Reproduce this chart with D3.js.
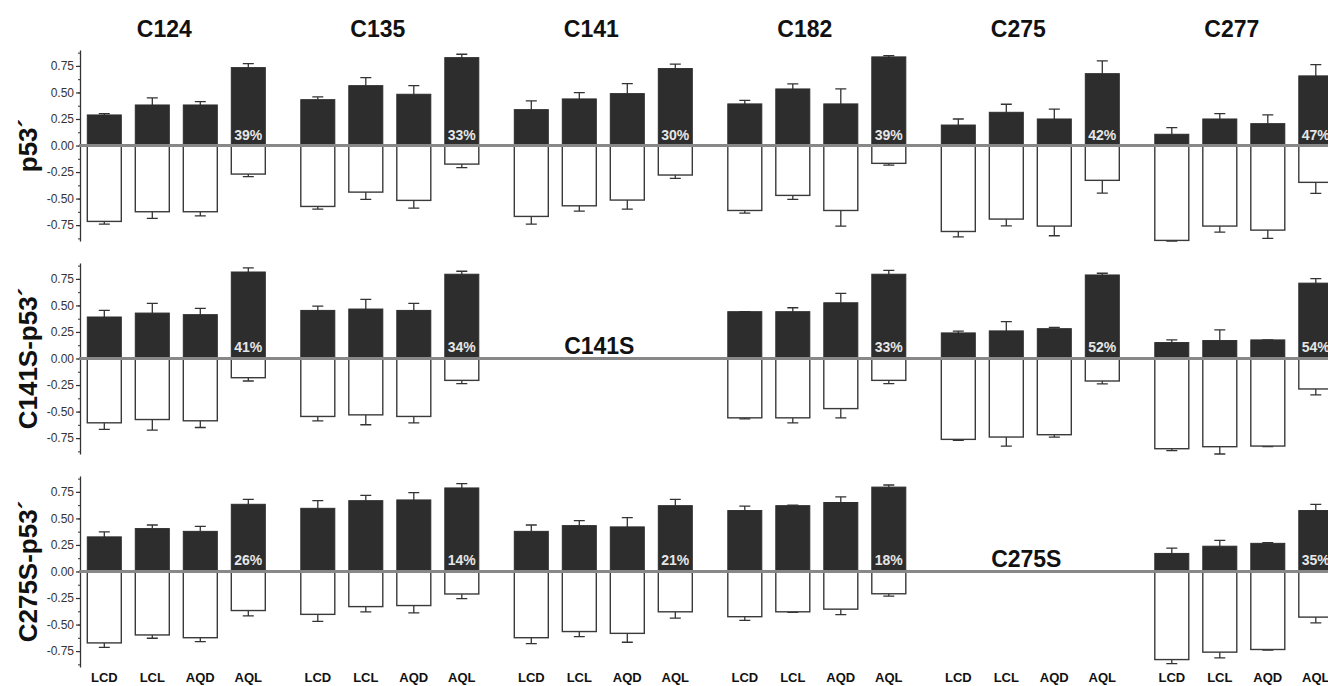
<!DOCTYPE html>
<html>
<head>
<meta charset="utf-8">
<script src="https://cdn.jsdelivr.net/npm/d3@7"></script>
<style>
  body { margin: 0; background: #fff; }
  text { font-family: "Liberation Sans", Arial, sans-serif; }
</style>
</head>
<body>
<div id="chart"></div>
<script>
// panels (columns), constructs (rows), ligand groups inside each panel
const panels = ["C124", "C135", "C141", "C182", "C275", "C277"];
const constructs = ["p53´", "C141S-p53´", "C275S-p53´"];
const ligands = ["LCD", "LCL", "AQD", "AQL"];
const yTicks = [-0.75, -0.5, -0.25, 0, 0.25, 0.5, 0.75];

// positive (dark) bars and the top of their error bars
const posMean = [
  [[0.288, 0.382, 0.382, 0.734], [0.432, 0.564, 0.483, 0.828], [0.338, 0.439, 0.489, 0.725], [0.392, 0.533, 0.392, 0.835], [0.193, 0.313, 0.25, 0.677], [0.106, 0.25, 0.206, 0.656]],
  [[0.391, 0.428, 0.413, 0.815], [0.453, 0.466, 0.453, 0.794], null, [0.441, 0.441, 0.525, 0.794], [0.241, 0.26, 0.281, 0.787], [0.15, 0.169, 0.175, 0.71]],
  [[0.326, 0.404, 0.378, 0.633], [0.595, 0.667, 0.674, 0.787], [0.378, 0.432, 0.42, 0.62], [0.574, 0.62, 0.65, 0.795], null, [0.17, 0.238, 0.265, 0.574]],
];
const posHi = [
  [[0.30, 0.448, 0.413, 0.772], [0.458, 0.64, 0.564, 0.86], [0.42, 0.498, 0.583, 0.766], [0.426, 0.58, 0.533, 0.847], [0.25, 0.389, 0.342, 0.797], [0.168, 0.30, 0.288, 0.762]],
  [[0.453, 0.519, 0.472, 0.853], [0.494, 0.557, 0.519, 0.822], null, [0.441, 0.478, 0.613, 0.831], [0.257, 0.347, 0.294, 0.803], [0.175, 0.269, 0.175, 0.753]],
  [[0.373, 0.438, 0.425, 0.68], [0.667, 0.717, 0.743, 0.827], [0.438, 0.48, 0.507, 0.68], [0.615, 0.625, 0.703, 0.815], null, [0.22, 0.294, 0.272, 0.633]],
];

// negative (white) bars and the bottom of their error bars
const negMean = [
  [[-0.715, -0.624, -0.624, -0.269], [-0.574, -0.439, -0.517, -0.175], [-0.668, -0.568, -0.514, -0.278], [-0.612, -0.47, -0.612, -0.168], [-0.81, -0.693, -0.759, -0.328], [-0.894, -0.759, -0.797, -0.347]],
  [[-0.606, -0.575, -0.587, -0.181], [-0.546, -0.531, -0.546, -0.206], null, [-0.559, -0.559, -0.472, -0.206], [-0.762, -0.74, -0.718, -0.212], [-0.85, -0.831, -0.825, -0.287]],
  [[-0.673, -0.598, -0.624, -0.368], [-0.404, -0.331, -0.321, -0.212], [-0.624, -0.566, -0.583, -0.38], [-0.426, -0.38, -0.355, -0.21], null, [-0.83, -0.76, -0.735, -0.43]],
];
const negLo = [
  [[-0.74, -0.687, -0.662, -0.294], [-0.599, -0.508, -0.59, -0.209], [-0.74, -0.618, -0.599, -0.309], [-0.637, -0.508, -0.76, -0.184], [-0.86, -0.757, -0.85, -0.448], [-0.9, -0.816, -0.875, -0.451]],
  [[-0.668, -0.675, -0.65, -0.212], [-0.587, -0.624, -0.606, -0.237], null, [-0.568, -0.606, -0.559, -0.237], [-0.771, -0.825, -0.74, -0.24], [-0.868, -0.9, -0.83, -0.343]],
  [[-0.716, -0.629, -0.661, -0.418], [-0.47, -0.38, -0.39, -0.255], [-0.68, -0.614, -0.667, -0.44], [-0.46, -0.385, -0.407, -0.232], null, [-0.868, -0.814, -0.74, -0.485]],
];

// percent labels in the AQL bars, and the mutated-cysteine labels for empty panels
const pctLabels = [
  ["39%", "33%", "30%", "39%", "42%", "47%"],
  ["41%", "34%", null, "33%", "52%", "54%"],
  ["26%", "14%", "21%", "18%", null, "35%"],
];
const mutantLabels = [
  [null, null, null, null, null, null],
  [null, null, "C141S", null, null, null],
  [null, null, null, null, "C275S", null],
];

const width = 1328, height = 686;
const axisX = 80;

const svg = d3.select("#chart").append("svg")
  .attr("width", width)
  .attr("height", height)
  .style("background", "#fff");

const xPanel = d3.scaleBand().domain(panels).range([axisX, axisX + 6 * 213.5]);
const xBar = d3.scaleBand().domain(ligands).range([7.3, 185.3]).paddingInner(0.2917).paddingOuter(0);
const yRow = d3.scaleBand().domain(d3.range(3)).range([50, 667]).paddingInner(0.103).paddingOuter(0);
const yVal = d3.scaleLinear().domain([-0.9, 0.9]).range([yRow.bandwidth(), 0]);

const fmt = (d) => d.toFixed(2);
const capW = 11;

// column titles
svg.selectAll(".col-title")
  .data(panels)
  .join("text")
  .attr("class", "col-title")
  .attr("x", (d) => xPanel(d) + xBar("LCD") + 77)
  .attr("y", 36.5)
  .attr("text-anchor", "middle")
  .attr("font-size", "23px")
  .attr("font-weight", "bold")
  .attr("fill", "#111")
  .text((d) => d);

constructs.forEach((name, r) => {
  const g = svg.append("g").attr("transform", `translate(0, ${yRow(r)})`);
  const y0 = yVal(0);

  // row label
  g.append("text")
    .attr("transform", `translate(37, ${y0}) rotate(-90)`)
    .attr("text-anchor", "middle")
    .attr("font-size", "26px")
    .attr("font-weight", "bold")
    .attr("fill", "#111")
    .text(name);

  // minor ticks
  g.append("g")
    .attr("transform", `translate(${axisX}, 0)`)
    .call(d3.axisLeft(yVal).tickValues(d3.range(-0.875, 0.9, 0.125)).tickSize(2).tickSizeOuter(0).tickFormat(""))
    .call((a) => a.selectAll("line").attr("stroke", "#333"))
    .call((a) => a.select(".domain").remove());

  // major axis
  g.append("g")
    .attr("transform", `translate(${axisX}, 0)`)
    .call(d3.axisLeft(yVal).tickValues(yTicks).tickSize(4).tickSizeOuter(0).tickPadding(2).tickFormat(fmt))
    .call((a) => a.select(".domain").attr("stroke", "#333").attr("stroke-width", 1.3))
    .call((a) => a.selectAll("line").attr("stroke", "#333").attr("stroke-width", 1.2))
    .call((a) => a.selectAll("text").attr("font-size", "12px").attr("fill", "#333")
      .attr("font-family", "'Liberation Sans', Arial, sans-serif"));

  panels.forEach((p, c) => {
    const pg = g.append("g").attr("transform", `translate(${xPanel(p)}, 0)`);
    if (posMean[r][c]) {
      const rows = ligands.map((l, i) => ({
        lig: l,
        pos: posMean[r][c][i], hi: posHi[r][c][i],
        neg: negMean[r][c][i], lo: negLo[r][c][i],
      }));
      const cx = (d) => xBar(d.lig) + xBar.bandwidth() / 2;

      // error bars (drawn first so bars sit over the stems)
      pg.selectAll(".err-pos")
        .data(rows)
        .join("path")
        .attr("d", (d) => `M${cx(d)},${yVal(d.pos)}V${yVal(d.hi)}M${cx(d) - capW / 2},${yVal(d.hi)}h${capW}`)
        .attr("stroke", "#333").attr("stroke-width", 1.3).attr("fill", "none");
      pg.selectAll(".err-neg")
        .data(rows)
        .join("path")
        .attr("d", (d) => `M${cx(d)},${yVal(d.neg)}V${yVal(d.lo)}M${cx(d) - capW / 2},${yVal(d.lo)}h${capW}`)
        .attr("stroke", "#333").attr("stroke-width", 1.3).attr("fill", "none");

      pg.selectAll(".bar-pos")
        .data(rows)
        .join("rect")
        .attr("x", (d) => xBar(d.lig))
        .attr("y", (d) => yVal(d.pos))
        .attr("width", xBar.bandwidth())
        .attr("height", (d) => y0 - yVal(d.pos))
        .attr("fill", "#2d2d2d")
        .attr("stroke", "#2d2d2d")
        .attr("stroke-width", 1);

      pg.selectAll(".bar-neg")
        .data(rows)
        .join("rect")
        .attr("x", (d) => xBar(d.lig))
        .attr("y", y0)
        .attr("width", xBar.bandwidth())
        .attr("height", (d) => yVal(d.neg) - y0)
        .attr("fill", "#fff")
        .attr("stroke", "#3a3a3a")
        .attr("stroke-width", 1.4);
    }
  });

  // zero line across the row
  g.append("line")
    .attr("x1", axisX - 1).attr("x2", width)
    .attr("y1", y0).attr("y2", y0)
    .attr("stroke", "#888").attr("stroke-width", 3);

  panels.forEach((p, c) => {
    if (pctLabels[r][c]) {
      g.append("text")
        .attr("x", xPanel(p) + xBar("AQL") + xBar.bandwidth() / 2)
        .attr("y", y0 - 6)
        .attr("text-anchor", "middle")
        .attr("font-size", "14px")
        .attr("font-weight", "bold")
        .attr("fill", "#e6e6e6")
        .text(pctLabels[r][c]);
    }
    if (mutantLabels[r][c]) {
      g.append("text")
        .attr("x", xPanel(p) + xBar("LCD") + 85)
        .attr("y", y0 - 4.5)
        .attr("text-anchor", "middle")
        .attr("font-size", "23px")
        .attr("font-weight", "bold")
        .attr("fill", "#111")
        .text(mutantLabels[r][c]);
    }
  });
});

// ligand labels under the bottom row
panels.forEach((p) => {
  svg.append("g")
    .selectAll("text")
    .data(ligands)
    .join("text")
    .attr("x", (d) => xPanel(p) + xBar(d) + xBar.bandwidth() / 2)
    .attr("y", 682)
    .attr("text-anchor", "middle")
    .attr("font-size", "13px")
    .attr("font-weight", "bold")
    .attr("fill", "#111")
    .text((d) => d);
});
</script>
</body>
</html>
